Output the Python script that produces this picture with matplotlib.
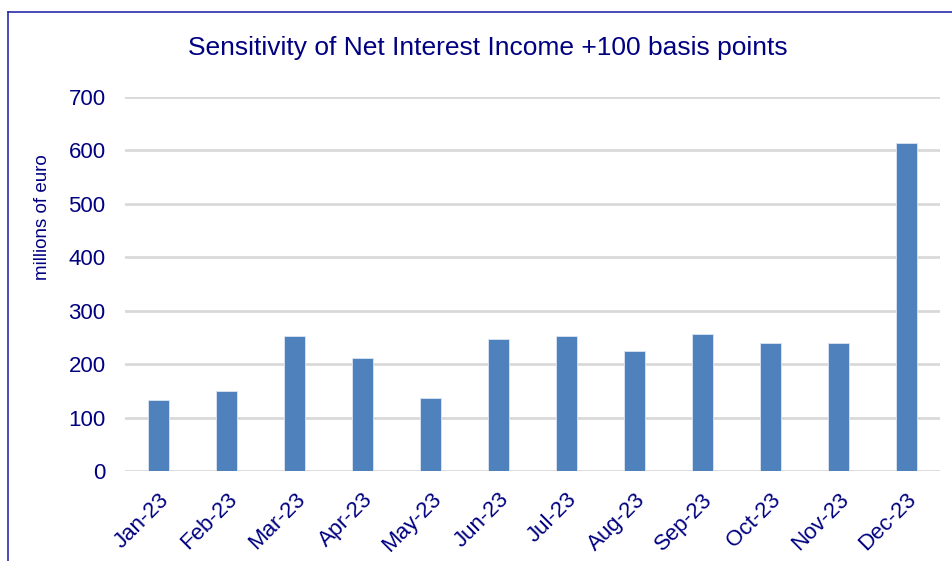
import matplotlib
matplotlib.use("Agg")
import matplotlib.pyplot as plt
from matplotlib.lines import Line2D

plt.rcParams['font.family'] = ['Liberation Sans', 'DejaVu Sans']

months = ["Jan-23", "Feb-23", "Mar-23", "Apr-23", "May-23", "Jun-23",
          "Jul-23", "Aug-23", "Sep-23", "Oct-23", "Nov-23", "Dec-23"]
values = [133, 150, 253, 212, 137, 247, 253, 225, 257, 240, 240, 614]
yticks = [0, 100, 200, 300, 400, 500, 600, 700]

navy = "#000080"
W, H = 953, 561
fig = plt.figure(figsize=(W / 100, H / 100), dpi=100)
ax = fig.add_axes([125 / W, (H - 471) / H, (940 - 125) / W, (471 - 97) / H])

x = list(range(len(months)))
ax.bar(x, values, width=0.31, color="#4F81BD", edgecolor="#DCE6F2", linewidth=0.6, zorder=3)
ax.set_xlim(-0.5, len(months) - 0.5)
ax.set_ylim(0, 700)
ax.set_yticks(yticks)
ax.set_yticklabels([str(v) for v in yticks], fontsize=16, color=navy)
ax.set_xticks(x)
ax.set_xticklabels(months, rotation=45, ha="right", rotation_mode="anchor",
                   fontsize=16, color=navy)
ax.tick_params(axis="y", length=0, pad=14)
ax.tick_params(axis="x", length=0, pad=13)
ax.grid(axis="y", color="#D9D9D9", linewidth=2, zorder=0)
for s in ax.spines.values():
    s.set_visible(False)

fig.text(43 / W, (H - 217) / H, "millions of euro", rotation=90, fontsize=13.5,
         color=navy, ha="center", va="center")
fig.text(488 / W, (H - 48) / H, "Sensitivity of Net Interest Income +100 basis points",
         fontsize=19, color=navy, ha="center", va="center")

fig.add_artist(Line2D([8 / W, 1], [(H - 12) / H, (H - 12) / H], color="#2B2BAA", linewidth=1.2))
fig.add_artist(Line2D([8 / W, 8 / W], [0, (H - 12) / H], color="#2B2BAA", linewidth=1.2))

fig.savefig("out.png", dpi=100)
